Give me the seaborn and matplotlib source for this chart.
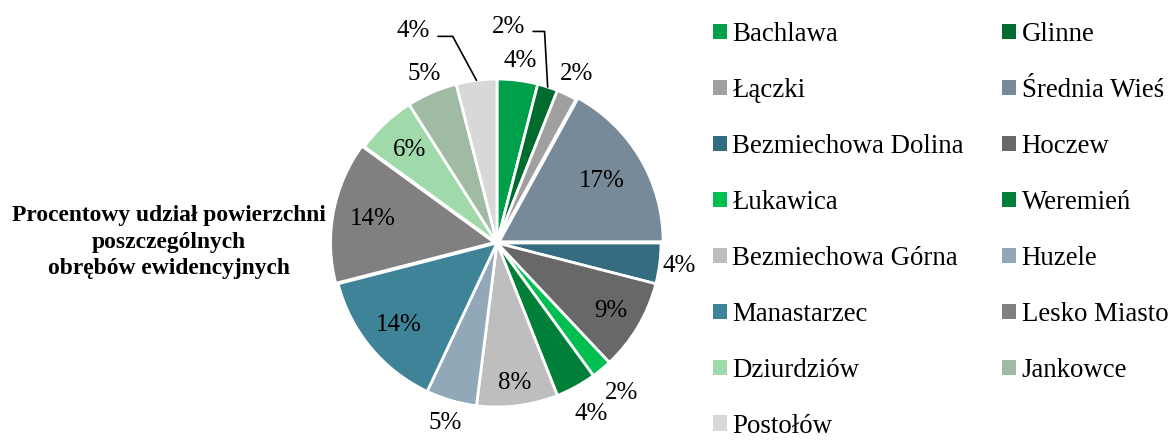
import numpy as np
import matplotlib.pyplot as plt
import seaborn as sns
from matplotlib.patches import Patch

# data
obreby = ['Bachlawa', 'Glinne', 'Łączki', 'Średnia Wieś', 'Bezmiechowa Dolina',
          'Hoczew', 'Łukawica', 'Weremień', 'Bezmiechowa Górna', 'Huzele',
          'Manastarzec', 'Lesko Miasto', 'Dziurdziów', 'Jankowce', 'Postołów']
udzial = [4, 2, 2, 17, 4, 9, 2, 4, 8, 5, 14, 14, 6, 5, 4]
kolory = ['#00A04A', '#006B2F', '#A0A0A0', '#768A99', '#336B80',
          '#686868', '#00BF50', '#007F38', '#BEBEBE', '#90A8B8',
          '#3F8399', '#808080', '#A0D9AA', '#A0BBA4', '#D8D8D8']
tytul = 'Procentowy udział powierzchni\nposzczególnych\nobrębów ewidencyjnych'

# label radius per slice (inside / outside the pie)
label_r = [1.12, None, 1.14, 0.74, 1.12, 0.81, 1.19, 1.19, 0.86, 1.14,
           0.78, 0.77, 0.78, 1.12, None]
explode = [0, 0, 0, 0.015, 0, 0, 0, 0, 0, 0, 0, 0.015, 0, 0, 0]

sns.set_theme(style='white')
plt.rcParams['font.family'] = ['Liberation Serif', 'DejaVu Serif']
plt.rcParams['text.color'] = 'black'

W, H = 1173, 442
fig = plt.figure(figsize=(W / 100, H / 100), dpi=100)

# pie centre at (497, 243) px, radius 164 px
cx, cy, R = 497, 243, 164
left_px, right_px = 237, 757
ax = fig.add_axes([left_px / W, 0, (right_px - left_px) / W, 1])
wedges, _ = ax.pie(udzial, colors=kolory, startangle=90, counterclock=False,
                   explode=explode,
                   wedgeprops=dict(edgecolor='white', linewidth=2))
ax.set_xlim((left_px - cx) / R, (right_px - cx) / R)
ax.set_ylim(-(H - cy) / R, cy / R)
ax.axis('off')

fs = 18
for w, v, r in zip(wedges, udzial, label_r):
    if r is None:
        continue
    a = np.deg2rad((w.theta1 + w.theta2) / 2)
    ax.text(r * np.cos(a), r * np.sin(a), f'{v}%', ha='center', va='center',
            fontsize=fs, color='black')

# labels with leader lines (Glinne, Postołów)
for i, tx, ty, corner, start in [(1, 0.07, 1.32, 0.29, 0.22),
                                 (14, -0.51, 1.29, -0.27, -0.36)]:
    w = wedges[i]
    a = np.deg2rad((w.theta1 + w.theta2) / 2)
    ex, ey = np.cos(a), np.sin(a)
    ax.text(tx, ty, f'{udzial[i]}%', ha='center', va='center', fontsize=fs,
            color='black')
    ax.plot([start, corner, ex], [ty - 0.03, ty - 0.03, ey],
            color='black', linewidth=1.2)

fig.text(169 / W, 1 - 242 / H, tytul, ha='center', va='center',
         fontsize=16.9, fontweight='bold', linespacing=1.36, color='black')

# legend: row-wise order in two columns
handles = [Patch(facecolor=c, edgecolor='none') for c in kolory]
order = list(range(0, 15, 2)) + list(range(1, 15, 2))
fig.legend([handles[i] for i in order], [obreby[i] for i in order],
           ncol=2, loc='upper left', bbox_to_anchor=(713 / W, 1 - 22 / H),
           frameon=False, fontsize=19.4, handlelength=0.52, handleheight=0.52,
           handletextpad=0.2, labelspacing=1.15, columnspacing=1.42,
           borderaxespad=0, borderpad=0)

fig.savefig('out.png', dpi=100)
